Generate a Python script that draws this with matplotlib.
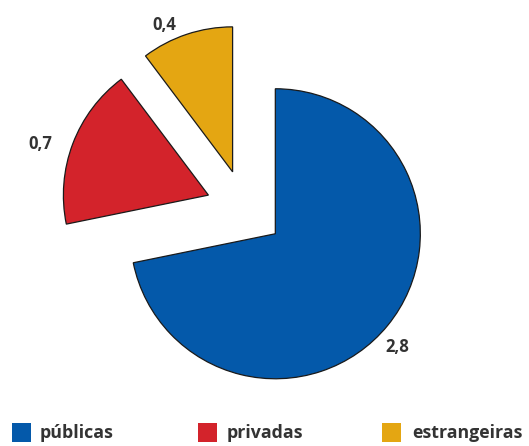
import numpy as np
import matplotlib
matplotlib.use("Agg")
import matplotlib.pyplot as plt
from matplotlib.patches import Rectangle

categories = ["públicas", "privadas", "estrangeiras"]
values = [2.8, 0.7, 0.4]
colors = ["#0459AA", "#D3232B", "#E4A612"]

plt.rcParams["font.family"] = ["Open Sans", "DejaVu Sans"]

W, H = 529, 446
fig = plt.figure(figsize=(W / 100, H / 100), dpi=100)
ax = fig.add_axes([0, 0, 1, 1])

total = sum(values)


def fmt(pct):
    v = pct * total / 100.0
    return f"{v:.1f}".replace(".", ",")


explode = 0.27
wedges, texts, autotexts = ax.pie(
    values,
    colors=colors,
    startangle=90,
    counterclock=False,
    explode=[explode] * len(values),
    radius=1.0,
    autopct=fmt,
    wedgeprops=dict(edgecolor="#1a1a1a", linewidth=0.9),
    textprops=dict(fontsize=12, fontweight="bold", color="#333333"),
)

# place each value label just outside its wedge
label_angle_shift = [-3.5, 4.0, 6.5]   # degrees
label_dist = [1.15, 1.21, 1.12]
for w, t, da, d in zip(wedges, autotexts, label_angle_shift, label_dist):
    mid = np.deg2rad((w.theta1 + w.theta2) / 2 + da)
    cx, cy = w.center
    t.set_position((cx + d * np.cos(mid), cy + d * np.sin(mid)))
    t.set_ha("center")
    t.set_va("center")

# pixel scale: 145 px per unit radius, pie origin at (245, 209) px from top-left
scale = 145.0
ox, oy = 245.0, 209.0
ax.set_xlim(-ox / scale, (W - ox) / scale)
ax.set_ylim(-(H - oy) / scale, oy / scale)
ax.set_aspect("auto")
ax.axis("off")

# legend row along the bottom
box_x = [12, 198, 382]
text_x = [40, 227, 412]
for bx, tx, lab, col in zip(box_x, text_x, categories, colors):
    fig.patches.append(Rectangle((bx / W, 1 - 442 / H), 18.5 / W, 19 / H,
                                 transform=fig.transFigure, facecolor=col,
                                 edgecolor="none"))
    fig.text(tx / W, 1 - 433 / H, lab, fontsize=12.8, fontweight="bold",
             color="#333333", va="center", ha="left")

fig.savefig("out.png", dpi=100)
